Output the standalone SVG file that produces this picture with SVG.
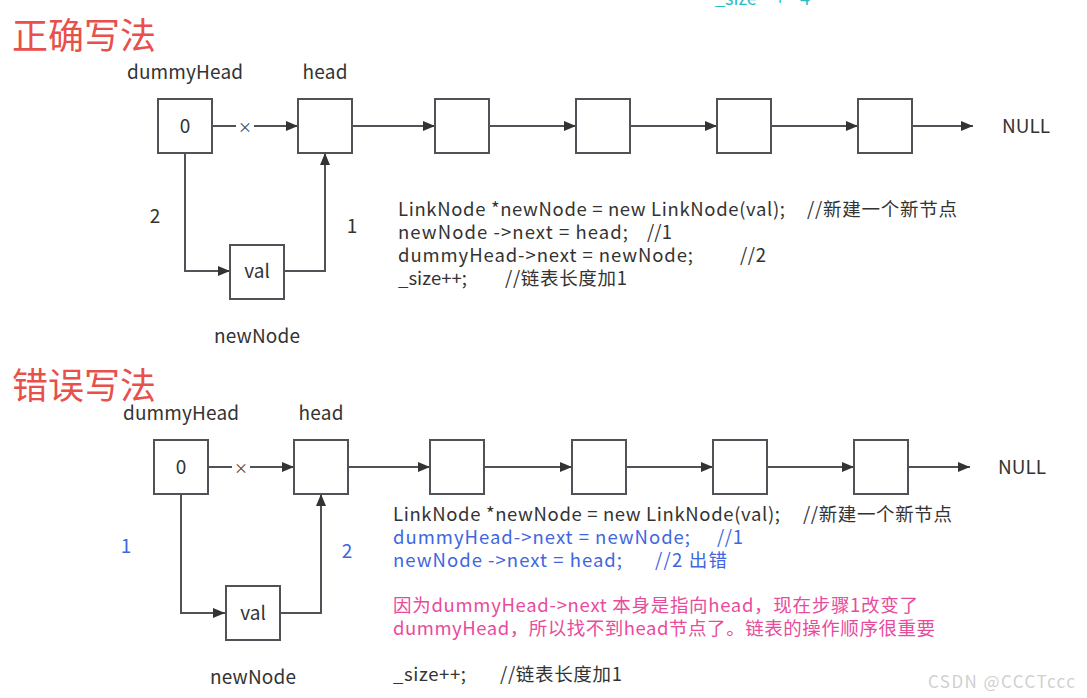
<svg xmlns="http://www.w3.org/2000/svg" width="1087" height="698" viewBox="0 0 1087 698">
<style>
text{font-family:"Noto Sans CJK SC","Noto Sans",sans-serif;}
.box{fill:#fff;stroke:#4f5358;stroke-width:2;}
.ln{fill:none;stroke:#4f5358;stroke-width:2;}
.lbl{font-size:19px;fill:#333;text-anchor:middle;}
.code{font-size:18.5px;fill:#333;}
.blue{fill:#3f66e0;}
.pink{fill:#e94b9c;}
.title{font-size:36px;fill:#e8504c;}
.x{font-size:14px;fill:#444;text-anchor:middle;}
</style>
<defs>
<marker id="ah" viewBox="0 0 12 10" refX="12" refY="5" markerWidth="12" markerHeight="10" markerUnits="userSpaceOnUse" orient="auto">
<path d="M0,0 L12,5 L0,10 z" fill="#333"/>
</marker>
</defs>
<text x="715" y="5" style="font-size:18px;fill:#2bbcc4">_size<tspan x="775">+</tspan><tspan x="800">4</tspan></text>
<text class="title" x="12" y="49">正确写法</text>
<text class="title" x="12" y="399">错误写法</text>

<g id="connectors">
<path class="ln" d="M212,126 H236"/>
<path class="ln" d="M254,126 H298" marker-end="url(#ah)"/>
<path class="ln" d="M352,126 H435" marker-end="url(#ah)"/>
<path class="ln" d="M489,126 H576" marker-end="url(#ah)"/>
<path class="ln" d="M630,126 H717" marker-end="url(#ah)"/>
<path class="ln" d="M771,126 H858" marker-end="url(#ah)"/>
<path class="ln" d="M912,126 H973" marker-end="url(#ah)"/>
<path class="ln" d="M185,153 V271 H230" marker-end="url(#ah)"/>
<path class="ln" d="M284,271 H325 V153" marker-end="url(#ah)"/>

<path class="ln" d="M208,467 H232"/>
<path class="ln" d="M250,467 H294" marker-end="url(#ah)"/>
<path class="ln" d="M348,467 H430" marker-end="url(#ah)"/>
<path class="ln" d="M484,467 H572" marker-end="url(#ah)"/>
<path class="ln" d="M626,467 H713" marker-end="url(#ah)"/>
<path class="ln" d="M767,467 H854" marker-end="url(#ah)"/>
<path class="ln" d="M908,467 H970" marker-end="url(#ah)"/>
<path class="ln" d="M181,494 V613 H225" marker-end="url(#ah)"/>
<path class="ln" d="M280,613 H321 V494" marker-end="url(#ah)"/>
<text class="x" x="245" y="132">×</text>
<text class="x" x="241" y="473">×</text>
<text class="lbl" x="155" y="223">2</text>
<text class="lbl" x="352" y="233">1</text>
<text class="lbl blue" x="126" y="553">1</text>
<text class="lbl blue" x="347" y="558">2</text>
</g>

<g id="top-dummyHead"><rect class="box" x="158" y="99" width="54" height="54"/><text class="lbl" x="185" y="133">0</text><text class="lbl" x="185" y="79" textLength="116" lengthAdjust="spacing">dummyHead</text></g>
<g id="top-head"><rect class="box" x="298" y="99" width="54" height="54"/><text class="lbl" x="325" y="79" textLength="45" lengthAdjust="spacing">head</text></g>
<g id="top-n3"><rect class="box" x="435" y="99" width="54" height="54"/></g>
<g id="top-n4"><rect class="box" x="576" y="99" width="54" height="54"/></g>
<g id="top-n5"><rect class="box" x="717" y="99" width="54" height="54"/></g>
<g id="top-n6"><rect class="box" x="858" y="99" width="54" height="54"/></g>
<g id="top-null"><text class="lbl" x="1026" y="133" textLength="48" lengthAdjust="spacing">NULL</text></g>
<g id="top-newNode"><rect class="box" x="230" y="245" width="54" height="54"/><text class="lbl" x="257" y="278">val</text><text class="lbl" x="257" y="343" textLength="86" lengthAdjust="spacing">newNode</text></g>

<g id="top-code">
<text class="code" x="398" y="216" textLength="387" lengthAdjust="spacing">LinkNode *newNode = new LinkNode(val);</text>
<text class="code" x="807" y="216" textLength="150" lengthAdjust="spacing">//新建一个新节点</text>
<text class="code" x="398" y="239" textLength="230" lengthAdjust="spacing">newNode -&gt;next = head;</text>
<text class="code" x="647" y="239" textLength="25" lengthAdjust="spacing">//1</text>
<text class="code" x="398" y="262" textLength="295" lengthAdjust="spacing">dummyHead-&gt;next = newNode;</text>
<text class="code" x="740" y="262" textLength="26" lengthAdjust="spacing">//2</text>
<text class="code" x="398" y="285" textLength="69" lengthAdjust="spacing">_size++;</text>
<text class="code" x="505" y="285" textLength="122" lengthAdjust="spacing">//链表长度加1</text>
</g>

<g id="bot-dummyHead"><rect class="box" x="154" y="440" width="54" height="54"/><text class="lbl" x="181" y="474">0</text><text class="lbl" x="181" y="420" textLength="116" lengthAdjust="spacing">dummyHead</text></g>
<g id="bot-head"><rect class="box" x="294" y="440" width="54" height="54"/><text class="lbl" x="321" y="420" textLength="45" lengthAdjust="spacing">head</text></g>
<g id="bot-n3"><rect class="box" x="430" y="440" width="54" height="54"/></g>
<g id="bot-n4"><rect class="box" x="572" y="440" width="54" height="54"/></g>
<g id="bot-n5"><rect class="box" x="713" y="440" width="54" height="54"/></g>
<g id="bot-n6"><rect class="box" x="854" y="440" width="54" height="54"/></g>
<g id="bot-null"><text class="lbl" x="1022" y="474" textLength="48" lengthAdjust="spacing">NULL</text></g>
<g id="bot-newNode"><rect class="box" x="226" y="586" width="54" height="54"/><text class="lbl" x="253" y="620">val</text><text class="lbl" x="253" y="684" textLength="86" lengthAdjust="spacing">newNode</text></g>

<g id="bot-code">
<text class="code" x="393" y="521" textLength="387" lengthAdjust="spacing">LinkNode *newNode = new LinkNode(val);</text>
<text class="code" x="803" y="521" textLength="149" lengthAdjust="spacing">//新建一个新节点</text>
<text class="code blue" x="393" y="544" textLength="297" lengthAdjust="spacing">dummyHead-&gt;next = newNode;</text>
<text class="code blue" x="717" y="544" textLength="26" lengthAdjust="spacing">//1</text>
<text class="code blue" x="393" y="567" textLength="229" lengthAdjust="spacing">newNode -&gt;next = head;</text>
<text class="code blue" x="655" y="567" textLength="72" lengthAdjust="spacing">//2 出错</text>
<text class="code pink" x="393" y="612" textLength="525" lengthAdjust="spacing">因为dummyHead-&gt;next 本身是指向head，现在步骤1改变了</text>
<text class="code pink" x="393" y="635" textLength="542" lengthAdjust="spacing">dummyHead，所以找不到head节点了。链表的操作顺序很重要</text>
<text class="code" x="393" y="681" textLength="73" lengthAdjust="spacing">_size++;</text>
<text class="code" x="500" y="681" textLength="122" lengthAdjust="spacing">//链表长度加1</text>
</g>
<text x="928" y="688" textLength="147" lengthAdjust="spacing" style="font-size:17px;fill:#d0d0d0">CSDN @CCCTccc</text>
</svg>
